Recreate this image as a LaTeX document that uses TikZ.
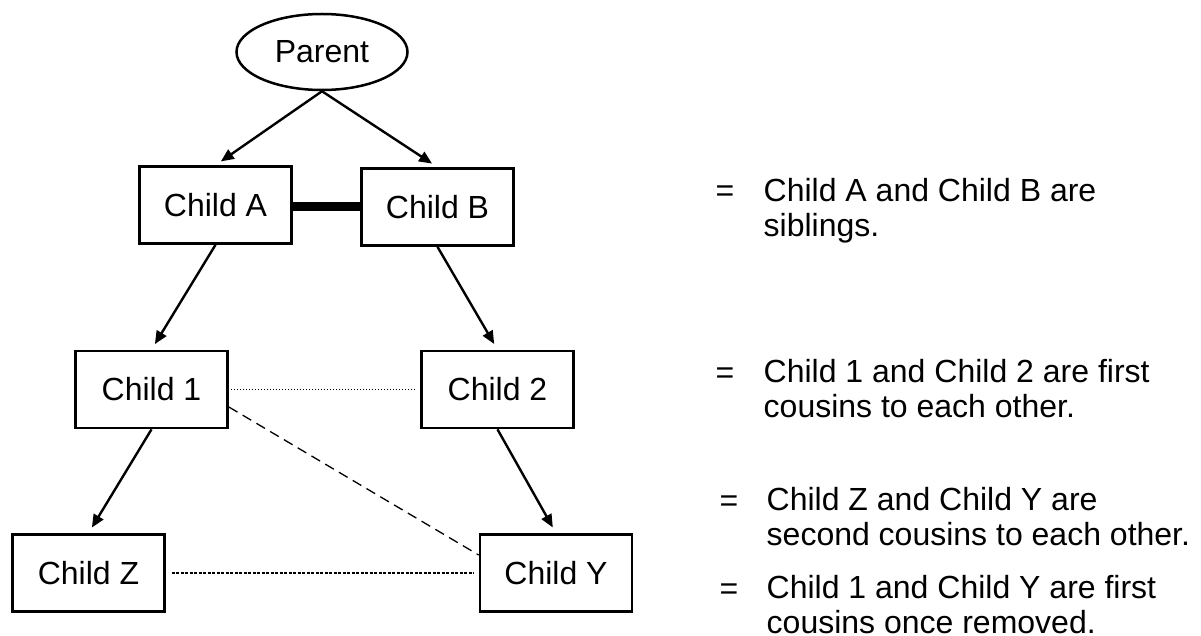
\documentclass[tikz,border=0pt]{standalone}
\usepackage{fontspec}
\setmainfont{Liberation Sans}
\usepackage{tikz}
\usetikzlibrary{shapes.geometric, arrows.meta}

\begin{document}
\begin{tikzpicture}[
    x=1pt, y=-1pt,
    font=\fontsize{32}{35}\selectfont,
    >={Triangle[length=13pt,width=11pt]},
    block/.style={draw, line width=2.7pt, minimum width=152pt, minimum height=77pt, inner sep=0pt},
    oval/.style={draw, ellipse, line width=2.5pt, minimum width=171pt, minimum height=76pt, inner sep=0pt},
    link/.style={->, line width=2.4pt, shorten >=6.5pt},
    note/.style={anchor=north west, align=left, inner sep=0pt}
]
    \useasboundingbox (0,0) rectangle (1201,636);

    % Node placement
    \node (parent) [oval] at (322,52) {Parent};
    \node (childa) [block] at (215.5,205) {Child A};
    \node (childb) [block] at (437.5,207) {Child B};
    \node (child1) [block] at (151.5,389.5) {Child 1};
    \node (child2) [block] at (497.5,389.5) {Child 2};
    \node (childz) [block] at (88.5,573) {Child Z};
    \node (childy) [block] at (556,573) {Child Y};

    % Arrows
    \draw[link] (parent.south) -- (childa.north);
    \draw[link] (parent.south) -- (childb.north);
    \draw[link] (childa.south) -- (child1.north);
    \draw[link] (childb.south) -- (child2.north);
    \draw[link] (child1.south) -- (childz.north);
    \draw[link] (child2.south) -- (childy.north);

    % Relations
    \draw[line width=9pt] (childa.east |- childb.west) -- (childb.west);
    \draw[line width=1pt, dotted, shorten <=2.5pt, shorten >=5pt] (child1.east) -- (child2.west);
    \draw[line width=1.2pt, dash pattern=on 3pt off 1.5pt, shorten <=6pt, shorten >=5pt] (childz.east) -- (childy.west);
    \draw[line width=1.3pt, dash pattern=on 10pt off 6pt] ([yshift=-17.5pt]child1.east) -- ([yshift=18pt]childy.west);

    % Legend
    \node (eqab) [anchor=base] at (725,202) {=};
    \node (noteab) [note] at (763.5,178.5) {Child A and Child B are\\siblings.};
    \node (eq12) [anchor=base] at (725,383) {=};
    \node (note12) [note] at (763.5,359.5) {Child 1 and Child 2 are first\\cousins to each other.};
    \node (eqzy) [anchor=base] at (729,511) {=};
    \node (notezy) [note] at (766.5,487.5) {Child Z and Child Y are\\second cousins to each other.};
    \node (eq1y) [anchor=base] at (729,599) {=};
    \node (note1y) [note] at (766.5,575.5) {Child 1 and Child Y are first\\cousins once removed.};

\end{tikzpicture}
\end{document}
